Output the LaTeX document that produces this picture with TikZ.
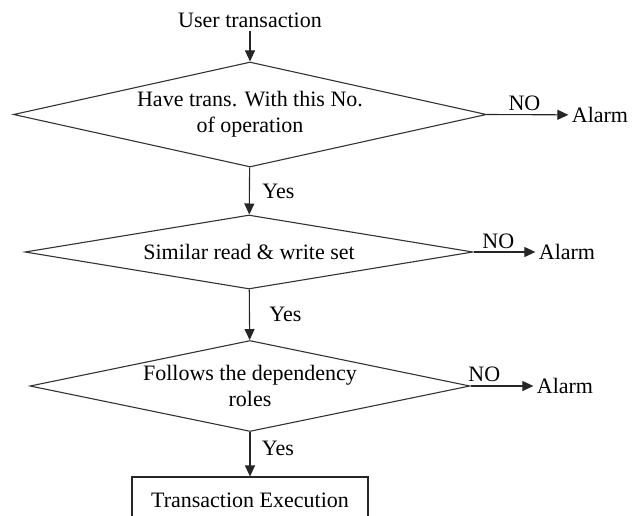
\documentclass[tikz,border=0pt]{standalone}
\usepackage{fontspec}
\setmainfont{Liberation Serif}
\usetikzlibrary{shapes.geometric,arrows.meta}

\begin{document}
\begin{tikzpicture}[x=1pt,y=-1pt,
        every node/.style={font=\fontsize{22}{26}\selectfont},
        check/.style={diamond, draw=black!80, line width=1.1pt, inner sep=0pt, align=center},
        flow/.style={draw=black!85, line width=1.1pt, -{Triangle[length=11pt,width=10pt]}}]
            \useasboundingbox (0,0) rectangle (640,516);

            \node (user) at (250,20) {User transaction};
            \node[check, minimum width=473pt, minimum height=105pt, aspect=4.5] (ops) at (250,114.5) {Have trans. With this No.\\of operation};
            \node[check, minimum width=448pt, minimum height=74pt, aspect=6] (rwset) at (249,252) {Similar read \& write set};
            \node[check, minimum width=440pt, minimum height=91pt, aspect=4.8] (deps) at (250,386) {Follows the dependency\\roles};
            \node[draw=black!85, line width=1.1pt, minimum width=236pt, minimum height=46pt] (exec) at (250,500) {Transaction Execution};

            \node (alarmA) at (600,115) {Alarm};
            \node (alarmB) at (567,252) {Alarm};
            \node (alarmC) at (565,386) {Alarm};

            \draw[flow] (user) -- (ops);
            \draw[flow] (ops) -- node[right=9pt] {Yes} (rwset);
            \draw[flow] (rwset) -- node[right=16pt] {Yes} (deps);
            \draw[flow] (deps) -- node[right=8pt, pos=.37] {Yes} (exec);

            \draw[flow] (ops.east) -- node[above, pos=.46] {NO} (alarmA);
            \draw[flow] (rwset.east) -- node[above, pos=.4, inner sep=3pt] {NO} (alarmB);
            \draw[flow] (deps.east) -- node[above, pos=.22, inner sep=4pt] {NO} (alarmC);
            % \draw (exec.south west) -- (exec.south east);
        \end{tikzpicture}
\end{document}
